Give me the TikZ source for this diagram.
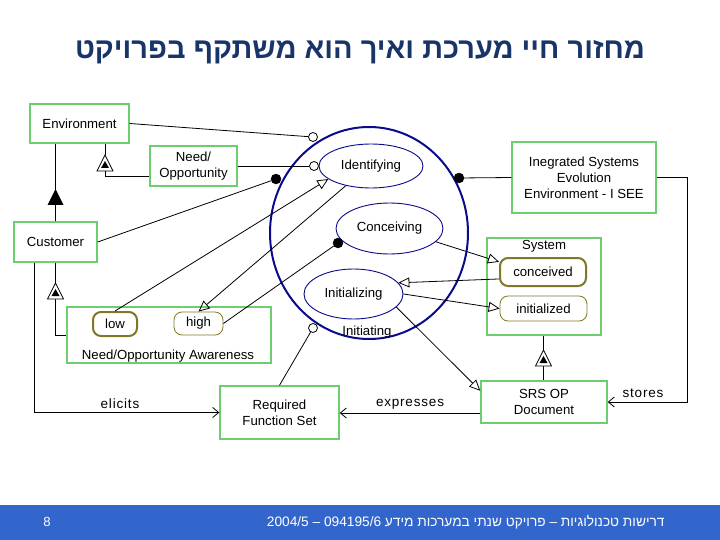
\documentclass[tikz,border=0pt]{standalone}
\usepackage{fontspec}
\setmainfont{Liberation Sans}
\newfontfamily\hebfont[Script=Hebrew]{Liberation Sans}
\newfontfamily\lblfont[LetterSpace=6]{Liberation Sans}
\TeXXeTstate=1
\usetikzlibrary{shapes.geometric,arrows.meta}
\definecolor{titleblue}{RGB}{24,52,104}
\definecolor{footblue}{RGB}{51,102,204}
\definecolor{boxgreen}{RGB}{110,205,110}
\definecolor{stolive}{RGB}{128,120,40}
\definecolor{navy}{RGB}{10,10,140}
\newcommand\charsym[1]{%
  \draw[fill=white, line width=0.8pt, shift={(#1)}] (0,0) -- (8,16) -- (-8,16) -- cycle;
  \fill[shift={(#1)}] (0,6) -- (4,13) -- (-4,13) -- cycle;}
\begin{document}
\begin{tikzpicture}[x=1pt,y=-1pt,
  every node/.style={font=\fontsize{13.2}{16}\selectfont},
  gbox/.style={draw=boxgreen, line width=1.4pt, fill=white, inner sep=0pt, align=center},
  stthin/.style={draw=stolive, line width=0.8pt, rounded corners=8pt, fill=white, inner sep=0pt},
  stthick/.style={draw=stolive, line width=2pt, rounded corners=8pt, fill=white, inner sep=0pt},
  proc/.style={ellipse, draw=navy, line width=0.9pt, inner sep=0pt},
  bigproc/.style={ellipse, draw=navy, line width=2pt, inner sep=0pt},
  ocirc/.style={circle, draw, fill=white, line width=0.8pt, minimum size=9pt, inner sep=0pt},
  fcirc/.style={circle, draw, fill=black, minimum size=10pt, inner sep=0pt},
  link/.style={line width=0.8pt},
  tri/.style={line width=0.8pt, -{Triangle[open, length=11pt, width=10pt]}},
  barb/.style={line width=0.8pt, -{Straight Barb[length=6pt, width=10pt]}},
  lbl/.style={font=\lblfont\fontsize{13.5}{16}\selectfont}]
\useasboundingbox (0,0) rectangle (720,540);

% title and footer
\node[font=\hebfont\bfseries\fontsize{29}{32}\selectfont, text=titleblue] (title) at (360,52) {\beginR מחזור חיי מערכת ואיך הוא משתקף בפרויקט\endR};
\fill[footblue] (0,505) rectangle (720,540);
\node[text=white] (pg) at (47,522) {8};
\node[font=\hebfont\fontsize{13.7}{15}\selectfont, text=white, anchor=east] (foot) at (668,522) {\beginR דרישות טכנולוגיות – פרויקט שנתי במערכות מידע \beginL094195/6\endL{} – \beginL2004/5\endL\endR};

% processes
\node[bigproc, minimum width=198pt, minimum height=212pt] (initg) at (369,233) {};
\node (initglbl) at (367,332) {Initiating};
\node[proc, minimum width=104pt, minimum height=44pt] (ident) at (371,166) {Identifying};
\node[proc, minimum width=107pt, minimum height=51pt] (conc) at (389.5,228.5) {Conceiving};
\node[proc, minimum width=99pt, minimum height=50pt] (initz) at (353.5,294) {Initializing};

% objects
\node[gbox, minimum width=99pt, minimum height=39pt] (env) at (79.5,123.5) {Environment};
\node[gbox, minimum width=87pt, minimum height=40pt] (need) at (193.5,166) {Need/\\Opportunity};
\node[gbox, minimum width=83pt, minimum height=40pt] (cust) at (55.5,242) {Customer};
\node[gbox, minimum width=204pt, minimum height=56pt] (noa) at (169,335) {};
\node (noalbl) at (168,356) {Need/Opportunity Awareness};
\node[stthick, minimum width=44pt, minimum height=24pt] (low) at (115,324) {low};
\node[stthin, minimum width=49pt, minimum height=23pt] (high) at (198.5,323.5) {high};
\node[gbox, minimum width=119pt, minimum height=53pt] (rfs) at (279.5,412.5) {Required\\Function Set};
\node[gbox, minimum width=126pt, minimum height=42pt] (srs) at (544,402) {SRS OP\\Document};
\node[gbox, minimum width=144pt, minimum height=71pt] (isee) at (584,177.5) {Inegrated Systems\\Evolution\\Environment - I SEE};
\node[gbox, minimum width=114pt, minimum height=97pt] (sys) at (544,286.5) {};
\node (syslbl) at (544,246) {System};
\node[stthick, minimum width=86pt, minimum height=28pt] (conceived) at (543,272) {conceived};
\node[stthin, minimum width=87pt, minimum height=25pt] (initialized) at (543.5,308.5) {initialized};

% instrument / agent links
\node[ocirc] (c1) at (313,137) {};
\draw[link] (env.east) -- (c1);
\node[ocirc] (c2) at (314,166) {};
\draw[link] (need.east) -- (c2);
\node[fcirc] (c3) at (276,179) {};
\draw[link] (cust.east) -- (c3);
\node[fcirc] (c4) at (459,178) {};
\draw[link] (isee.west) -- (c4);
\node[ocirc] (c5) at (313,328) {};
\draw[link] (rfs.north) -- (c5);
\node[fcirc] (c6) at (338,243) {};
\draw[link] (high.east) -- (c6);

% consumption / result links
\draw[tri] (low.north) -- (ident.197);
\draw[tri] (ident.218) -- (high.north);
\draw[tri] (conc.344) -- (conceived.167);
\draw[tri] (conceived.189) -- (initz.14);
\draw[tri] (initz.east) -- (initialized.west);
\draw[tri] (initz.343) -- (srs.170);

% aggregation Environment - Customer
\draw[link] (cust.north) -- (cust.north |- env.south);
\fill[shift={(55.5,189)}] (0,0) -- (8,16) -- (-8,16) -- cycle;

% characterization Environment - Need/Opportunity
\coordinate (ch1) at (105,155);
\coordinate (ch1b) at (105,171);
\draw[link] (ch1 |- env.south) -- (ch1);
\draw[link] (ch1b) |- ([yshift=-10pt]need.west);
\charsym{ch1}

% characterization Customer - Need/Opportunity Awareness
\coordinate (ch2) at (55.5,283);
\coordinate (ch2b) at (55.5,299);
\draw[link] (cust.south) -- (ch2);
\draw[link] (ch2b) |- (noa.west);
\charsym{ch2}

% characterization System - SRS OP Document
\coordinate (ch3) at (543.5,350);
\coordinate (ch3b) at (543.5,366);
\draw[link] (ch3 |- sys.south) -- (ch3);
\draw[link] (ch3b) -- (ch3b |- srs.north);
\charsym{ch3}

% tagged structural links
\draw[barb] ([xshift=-21.5pt]cust.south) |- (rfs.west);
\node[lbl] (elicits) at (120,404) {elicits};
\draw[barb] ([yshift=-11pt]srs.west) -- ([yshift=-11pt]srs.west -| rfs.east);
\node[lbl] (expr) at (410,404) {expresses};
\draw[barb] (isee.east) -- ++(31,0) |- (srs.east);
\node[lbl] (stores) at (643,393) {stores};
\end{tikzpicture}
\end{document}
